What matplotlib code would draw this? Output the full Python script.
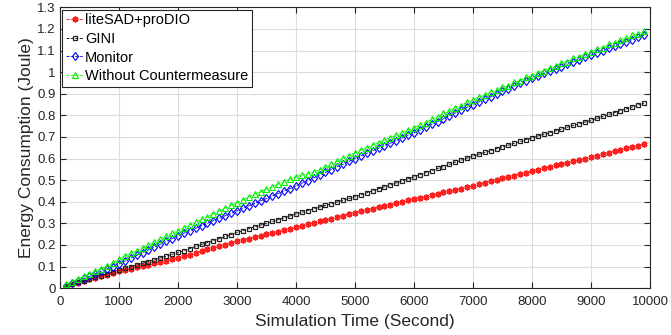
import matplotlib
matplotlib.use("Agg")
import matplotlib.pyplot as plt

plt.rcParams['font.family'] = ['Liberation Sans', 'DejaVu Sans']

times = list(range(100, 10000, 100))

lite_sad = [
    0.010, 0.017, 0.025, 0.032, 0.040, 0.047, 0.055, 0.062, 0.070, 0.078,
    0.084, 0.090, 0.096, 0.102, 0.108, 0.114, 0.121, 0.127, 0.133, 0.140,
    0.147, 0.155, 0.163, 0.171, 0.179, 0.186, 0.194, 0.201, 0.209, 0.217,
    0.223, 0.229, 0.236, 0.242, 0.249, 0.255, 0.261, 0.268, 0.274, 0.281,
    0.288, 0.295, 0.302, 0.309, 0.316, 0.322, 0.329, 0.336, 0.343, 0.350,
    0.356, 0.362, 0.368, 0.375, 0.381, 0.387, 0.393, 0.399, 0.406, 0.412,
    0.418, 0.424, 0.430, 0.436, 0.443, 0.449, 0.455, 0.461, 0.467, 0.473,
    0.480, 0.487, 0.494, 0.501, 0.508, 0.514, 0.521, 0.528, 0.535, 0.542,
    0.548, 0.555, 0.561, 0.568, 0.574, 0.581, 0.587, 0.594, 0.600, 0.607,
    0.614, 0.620, 0.627, 0.634, 0.640, 0.647, 0.654, 0.660, 0.667,
]

gini = [
    0.009, 0.017, 0.026, 0.034, 0.042, 0.050, 0.058, 0.066, 0.075, 0.083,
    0.091, 0.099, 0.107, 0.115, 0.123, 0.131, 0.140, 0.148, 0.156, 0.165,
    0.174, 0.183, 0.193, 0.202, 0.211, 0.220, 0.229, 0.239, 0.248, 0.258,
    0.266, 0.275, 0.283, 0.292, 0.300, 0.309, 0.317, 0.326, 0.334, 0.343,
    0.351, 0.359, 0.367, 0.375, 0.383, 0.391, 0.399, 0.407, 0.415, 0.423,
    0.432, 0.441, 0.450, 0.460, 0.469, 0.478, 0.487, 0.496, 0.506, 0.515,
    0.525, 0.535, 0.544, 0.554, 0.563, 0.573, 0.583, 0.592, 0.602, 0.612,
    0.620, 0.628, 0.637, 0.645, 0.654, 0.662, 0.671, 0.679, 0.688, 0.696,
    0.704, 0.712, 0.720, 0.728, 0.736, 0.745, 0.753, 0.761, 0.769, 0.777,
    0.786, 0.795, 0.804, 0.813, 0.822, 0.830, 0.839, 0.848, 0.857,
]

monitor = [
    0.012, 0.023, 0.034, 0.045, 0.056, 0.067, 0.078, 0.089, 0.100, 0.112,
    0.125, 0.138, 0.151, 0.164, 0.177, 0.190, 0.203, 0.216, 0.229, 0.243,
    0.254, 0.266, 0.277, 0.289, 0.300, 0.312, 0.323, 0.335, 0.346, 0.358,
    0.369, 0.381, 0.392, 0.404, 0.415, 0.427, 0.438, 0.450, 0.461, 0.473,
    0.486, 0.498, 0.511, 0.524, 0.536, 0.549, 0.562, 0.574, 0.587, 0.600,
    0.612, 0.624, 0.636, 0.648, 0.660, 0.671, 0.683, 0.695, 0.707, 0.719,
    0.732, 0.745, 0.758, 0.771, 0.784, 0.798, 0.811, 0.824, 0.837, 0.850,
    0.862, 0.874, 0.886, 0.899, 0.911, 0.923, 0.935, 0.948, 0.960, 0.972,
    0.983, 0.994, 1.004, 1.015, 1.026, 1.037, 1.048, 1.058, 1.069, 1.080,
    1.090, 1.100, 1.110, 1.121, 1.131, 1.141, 1.151, 1.162, 1.172,
]

without_cm = [
    0.018, 0.030, 0.042, 0.054, 0.066, 0.078, 0.090, 0.102, 0.118, 0.135,
    0.148, 0.161, 0.174, 0.187, 0.200, 0.213, 0.227, 0.240, 0.253, 0.266,
    0.279, 0.292, 0.305, 0.318, 0.331, 0.344, 0.357, 0.370, 0.383, 0.396,
    0.409, 0.422, 0.435, 0.447, 0.459, 0.470, 0.481, 0.493, 0.505, 0.516,
    0.523, 0.530, 0.538, 0.548, 0.560, 0.574, 0.588, 0.601, 0.614, 0.627,
    0.639, 0.651, 0.662, 0.674, 0.685, 0.697, 0.708, 0.719, 0.731, 0.742,
    0.757, 0.766, 0.783, 0.792, 0.809, 0.818, 0.836, 0.845, 0.862, 0.871,
    0.886, 0.893, 0.908, 0.916, 0.931, 0.938, 0.953, 0.961, 0.976, 0.983,
    0.998, 1.005, 1.020, 1.027, 1.042, 1.049, 1.064, 1.071, 1.086, 1.093,
    1.108, 1.114, 1.129, 1.135, 1.150, 1.156, 1.171, 1.177, 1.190,
]

series_names = ['liteSAD+proDIO', 'GINI', 'Monitor', 'Without Countermeasure']

fig = plt.figure(figsize=(6.71, 3.35), dpi=100)
ax = fig.add_axes([0.0894, 0.140, 0.8793, 0.838])

ax.plot(times, lite_sad, linestyle='--', linewidth=0.6, color='#ff0000',
        marker=(6, 2, 0), markersize=4.2, markerfacecolor='#ff0000',
        markeredgecolor='#ff2020', markeredgewidth=1.3, label=series_names[0])
ax.plot(times, gini, linestyle='--', linewidth=0.6, color='#000000',
        marker='s', markersize=3.5, markerfacecolor='none',
        markeredgecolor='#222222', markeredgewidth=0.9, label=series_names[1])
ax.plot(times, monitor, linestyle='--', linewidth=0.6, color='#0000ff',
        marker='d', markersize=4.5, markerfacecolor='none',
        markeredgecolor='#0000ff', markeredgewidth=0.8, label=series_names[2])
ax.plot(times, without_cm, linestyle='--', linewidth=0.6, color='#00ff00',
        marker='^', markersize=4.5, markerfacecolor='none',
        markeredgecolor='#00ee00', markeredgewidth=0.8, label=series_names[3])

ax.set_xlim(0, 10000)
ax.set_ylim(0, 1.3)
xt = list(range(0, 10001, 1000))
ax.set_xticks(xt)
ax.set_xticklabels([str(v) for v in xt])
yt = [i / 10 for i in range(0, 14)]
ax.set_yticks(yt)
ax.set_yticklabels(['0', '0.1', '0.2', '0.3', '0.4', '0.5', '0.6', '0.7',
                    '0.8', '0.9', '1', '1.1', '1.2', '1.3'])

ax.grid(True, color='#dcdcdc', linewidth=0.8)
ax.set_axisbelow(True)
ax.tick_params(direction='in', top=True, right=True, length=4, width=0.8,
               colors='#262626', labelsize=9.5)
ax.tick_params(axis='x', pad=6)
ax.tick_params(axis='y', pad=3)
for s in ax.spines.values():
    s.set_color('#262626')
    s.set_linewidth(0.8)

ax.set_xlabel('Simulation Time (Second)', fontsize=12.5, color='#262626', labelpad=4)
ax.set_ylabel('Energy Consumption (Joule)', fontsize=12.5, color='#262626', labelpad=2)

leg = ax.legend(loc='upper left', fontsize=10.5, frameon=True, fancybox=False,
                handlelength=1.2, handletextpad=0.1, borderpad=0.25,
                labelspacing=0.32, borderaxespad=0.15, framealpha=1)
leg.get_frame().set_edgecolor('#262626')
leg.get_frame().set_linewidth(0.8)

fig.savefig('out.png', dpi=100)
